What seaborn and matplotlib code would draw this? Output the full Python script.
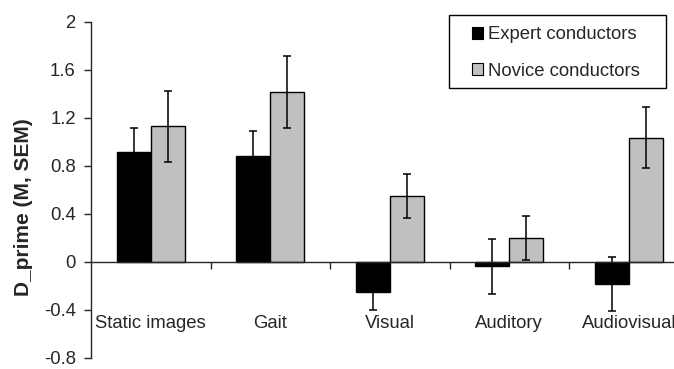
import numpy as np
import pandas as pd
import matplotlib
matplotlib.use("Agg")
import matplotlib.pyplot as plt
import seaborn as sns
from matplotlib.patches import Patch, Rectangle
from matplotlib.ticker import FixedLocator

categories = ['Static images', 'Gait', 'Visual', 'Auditory', 'Audiovisual']
groups = ['Expert conductors', 'Novice conductors']
expert_mean = [0.92, 0.88, -0.25, -0.035, -0.18]
expert_sem = [0.20, 0.21, 0.147, 0.23, 0.225]
novice_mean = [1.13, 1.42, 0.55, 0.20, 1.035]
novice_sem = [0.295, 0.30, 0.185, 0.185, 0.255]
colors = ['black', '#c0c0c0']

df = pd.DataFrame({
    'condition': categories * 2,
    'group': [groups[0]] * 5 + [groups[1]] * 5,
    'dprime': expert_mean + novice_mean,
})
sems = [expert_sem, novice_sem]
means = [expert_mean, novice_mean]

sns.set_style('ticks')
plt.rcParams['font.family'] = ['Liberation Sans', 'DejaVu Sans']

fig = plt.figure(figsize=(6.74, 3.69), dpi=100)
ax = fig.add_axes([91 / 674, 1 - 358 / 369, 597.5 / 674, 336 / 369])

sns.barplot(data=df, x='condition', y='dprime', hue='group', order=categories,
            hue_order=groups, palette=colors, width=0.57, edgecolor='black',
            linewidth=1, errorbar=None, ax=ax, legend=False)

# error bars centred on each bar
for cont, m, s in zip(ax.containers, means, sems):
    xs = [b.get_x() + b.get_width() / 2 for b in cont]
    ax.errorbar(xs, m, yerr=s, fmt='none', ecolor='black', elinewidth=1.1,
                capsize=3, capthick=1.1)

ax.set_xlim(-0.5, 4.5)
ax.set_ylim(-0.8, 2.0)
ax.set_yticks(np.arange(-0.8, 2.01, 0.4))
ax.set_yticklabels(['-0.8', '-0.4', '0', '0.4', '0.8', '1.2', '1.6', '2'])

ax.spines['bottom'].set_position(('data', 0))
ax.spines['top'].set_visible(False)
ax.spines['right'].set_visible(False)
ax.spines['left'].set_linewidth(1)
ax.spines['bottom'].set_linewidth(1)

ax.xaxis.set_minor_locator(FixedLocator([0.5, 1.5, 2.5, 3.5]))
ax.tick_params(axis='x', which='major', length=0, pad=38, labelsize=13.3)
ax.tick_params(axis='x', which='minor', length=5, width=1, direction='out')
ax.tick_params(axis='y', length=5, width=1, direction='out', labelsize=13.3, pad=6)

ax.set_xlabel('')
ax.set_ylabel('D_prime (M, SEM)', fontsize=15, fontweight='bold')
ax.yaxis.set_label_coords(-0.097, 0.448)

# legend with a plain box around it
ax.add_patch(Rectangle((449 / 674, 1 - 88 / 369), 217 / 674, 73 / 369,
                       transform=fig.transFigure, facecolor='white',
                       edgecolor='black', linewidth=1, zorder=5, clip_on=False))
handles = [Patch(facecolor=c, edgecolor='black', linewidth=0.8) for c in colors]
leg = ax.legend(handles, groups, loc='center',
                bbox_to_anchor=(556 / 674, 1 - 53 / 369), bbox_transform=fig.transFigure,
                fontsize=13.3, frameon=False, handlelength=0.6,
                handleheight=0.6, handletextpad=0.3, labelspacing=1.05,
                borderpad=0, borderaxespad=0)
leg.set_zorder(6)

fig.savefig('out.png', dpi=100)
